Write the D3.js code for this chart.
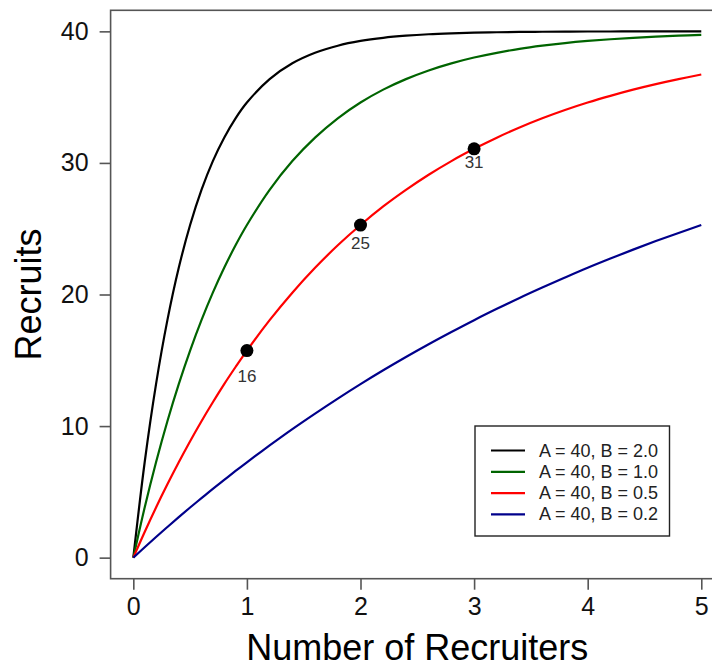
<!DOCTYPE html>
<html>
<head>
<meta charset="utf-8">
<script src="https://cdn.jsdelivr.net/npm/d3@7"></script>
<style>
  body { margin: 0; background: #fff; }
  text { font-family: "Liberation Sans", Arial, sans-serif; }
</style>
</head>
<body>
<svg id="chart" width="712" height="667"></svg>
<script>
// values
let recruiters = [0, 0.1, 0.2, 0.3, 0.4, 0.5, 0.6, 0.7, 0.8, 0.9, 1.0,
                  1.2, 1.4, 1.6, 1.8, 2.0, 2.2, 2.4, 2.6, 2.8, 3.0,
                  3.2, 3.4, 3.6, 3.8, 4.0, 4.2, 4.4, 4.6, 4.8, 5.0]
let recruitsB20 = [0, 7.25, 13.19, 18.05, 22.03, 25.28, 27.95, 30.14, 31.92, 33.39, 34.59,
                   36.37, 37.57, 38.37, 38.91, 39.27, 39.51, 39.67, 39.78, 39.85, 39.90,
                   39.93, 39.96, 39.97, 39.98, 39.99, 39.99, 40.00, 40.00, 40.00, 40.00]
let recruitsB10 = [0, 3.81, 7.25, 10.37, 13.19, 15.74, 18.05, 20.14, 22.03, 23.74, 25.28,
                   27.95, 30.14, 31.92, 33.39, 34.59, 35.57, 36.37, 37.03, 37.57, 38.01,
                   38.37, 38.67, 38.91, 39.11, 39.27, 39.40, 39.51, 39.60, 39.67, 39.73]
let recruitsB05 = [0, 1.95, 3.81, 5.57, 7.25, 8.85, 10.37, 11.81, 13.19, 14.49, 15.74,
                   18.05, 20.14, 22.03, 23.74, 25.28, 26.69, 27.95, 29.10, 30.14, 31.07,
                   31.92, 32.69, 33.39, 34.02, 34.59, 35.10, 35.57, 35.99, 36.37, 36.72]
let recruitsB02 = [0, 0.79, 1.57, 2.33, 3.08, 3.81, 4.52, 5.23, 5.91, 6.59, 7.25,
                   8.53, 9.77, 10.95, 12.09, 13.19, 14.24, 15.25, 16.22, 17.15, 18.05,
                   18.91, 19.74, 20.53, 21.29, 22.03, 22.73, 23.41, 24.06, 24.68, 25.28]
let seriesNames = ['A = 40, B = 2.0', 'A = 40, B = 1.0', 'A = 40, B = 0.5', 'A = 40, B = 0.2']
let seriesColors = ['black', '#006400', 'red', '#00008b']

let markX = [1, 2, 3]
let markY = [15.74, 25.28, 31.07]
let markLabels = ['16', '25', '31']
let markLabelY = [13.8, 23.9, 30.0]

let xTicks = [0, 1, 2, 3, 4, 5]
let yTicks = [0, 10, 20, 30, 40]

let svg = d3.select('#chart')
let axisGray = '#555'

let x = d3.scaleLinear().domain([-0.2, 5.2]).range([110.6, 724])
let y = d3.scaleLinear().domain([-1.6, 41.6]).range([578.7, 10.3])

// plot box
svg.append('rect')
  .attr('x', x(-0.2))
  .attr('y', y(41.6))
  .attr('width', x(5.2) - x(-0.2))
  .attr('height', y(-1.6) - y(41.6))
  .style('fill', 'none')
  .style('stroke', axisGray)
  .style('stroke-width', 1.6)

// axes
let xAxis = svg.append('g')
  .attr('transform', `translate(0,${y(-1.6)})`)
  .call(d3.axisBottom(x).tickValues(xTicks).tickSize(11).tickPadding(8).tickFormat(d3.format('d')))
let yAxis = svg.append('g')
  .attr('transform', `translate(${x(-0.2)},0)`)
  .call(d3.axisLeft(y).tickValues(yTicks).tickSize(11).tickPadding(11).tickFormat(d3.format('d')))

for (let g of [xAxis, yAxis]) {
  g.select('.domain').remove()
  g.selectAll('.tick line').style('stroke', axisGray).style('stroke-width', 1.6)
  g.selectAll('.tick text')
    .style('font-family', '"Liberation Sans", Arial, sans-serif')
    .style('font-size', '25px')
    .style('fill', '#111')
}

// axis titles
svg.append('text')
  .attr('x', (x(-0.2) + x(5.2)) / 2)
  .attr('y', 660)
  .attr('text-anchor', 'middle')
  .style('font-size', '36px')
  .style('fill', '#000')
  .text('Number of Recruiters')

svg.append('text')
  .attr('transform', `translate(41,${(y(-1.6) + y(41.6)) / 2}) rotate(-90)`)
  .attr('text-anchor', 'middle')
  .style('font-size', '36px')
  .style('fill', '#000')
  .text('Recruits')

// curves
let allSeries = [recruitsB20, recruitsB10, recruitsB05, recruitsB02]
let line = d3.line()
  .x((d, i) => x(recruiters[i]))
  .y(d => y(d))
  .curve(d3.curveCatmullRom)

allSeries.forEach((vals, k) => {
  svg.append('path')
    .attr('d', line(vals))
    .style('fill', 'none')
    .style('stroke', seriesColors[k])
    .style('stroke-width', 2.2)
})

// marked points
for (let i = 0; i < markX.length; i++) {
  svg.append('circle')
    .attr('cx', x(markX[i]))
    .attr('cy', y(markY[i]))
    .attr('r', 6.5)
    .style('fill', 'black')
  svg.append('text')
    .attr('x', x(markX[i]))
    .attr('y', y(markLabelY[i]))
    .attr('text-anchor', 'middle')
    .attr('dominant-baseline', 'central')
    .style('font-size', '17px')
    .style('fill', '#333')
    .text(markLabels[i])
}

// legend
let legend = svg.append('g').attr('transform', 'translate(475,426)')
legend.append('rect')
  .attr('width', 194.5)
  .attr('height', 110)
  .style('fill', 'white')
  .style('stroke', '#222')
  .style('stroke-width', 1.4)
seriesNames.forEach((name, k) => {
  let ry = 24.5 + k * 21.3
  legend.append('line')
    .attr('x1', 16).attr('x2', 50)
    .attr('y1', ry).attr('y2', ry)
    .style('stroke', seriesColors[k])
    .style('stroke-width', 2.2)
  legend.append('text')
    .attr('x', 64)
    .attr('y', ry)
    .attr('dominant-baseline', 'central')
    .style('font-size', '18px')
    .style('fill', '#222')
    .text(name)
})
</script>
</body>
</html>
